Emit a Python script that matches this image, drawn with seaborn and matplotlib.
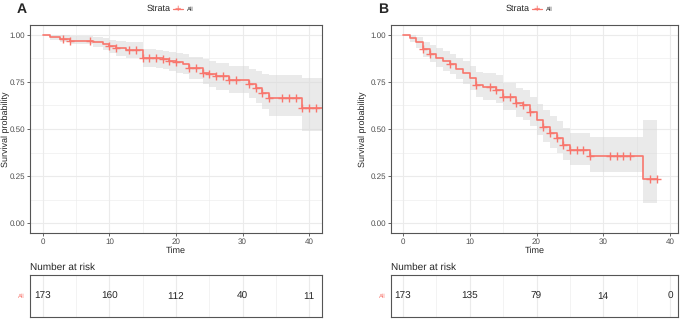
import numpy as np
import pandas as pd
import matplotlib
matplotlib.use("Agg")
import matplotlib.pyplot as plt
import seaborn as sns

# ---- panel A: Kaplan-Meier steps (time, survival, lower CI, upper CI)
a_time = [0, 1, 2.5, 4, 7.5, 9, 10, 11, 12.5, 15, 17, 18, 19, 20, 21, 22, 24, 25, 26, 28, 31, 32, 33, 34, 39, 42]
a_surv = [1.00, 0.99, 0.98, 0.97, 0.96, 0.95, 0.94, 0.93, 0.92, 0.88, 0.875, 0.87, 0.86, 0.855, 0.845, 0.825,
          0.80, 0.79, 0.78, 0.76, 0.74, 0.72, 0.69, 0.665, 0.61, 0.61]
a_lo = [1.00, 0.975, 0.96, 0.95, 0.935, 0.92, 0.905, 0.89, 0.88, 0.83, 0.825, 0.82, 0.81, 0.80, 0.79, 0.765,
        0.74, 0.725, 0.71, 0.69, 0.665, 0.64, 0.605, 0.57, 0.49, 0.49]
a_hi = [1.00, 1.00, 1.00, 0.995, 0.99, 0.985, 0.975, 0.97, 0.96, 0.925, 0.92, 0.915, 0.91, 0.905, 0.90, 0.885,
        0.87, 0.86, 0.85, 0.835, 0.82, 0.81, 0.79, 0.785, 0.77, 0.77]
a_cens = [3, 4, 7, 10, 11, 13, 14, 15, 16, 17, 18, 19, 20, 22, 23, 24, 25, 26, 27, 28, 29, 31, 32, 33, 34,
          36, 37, 38, 39, 40, 41]
a_risk = [173, 160, 112, 40, 11]

# ---- panel B
b_time = [0, 1, 2, 3, 4, 5, 6, 7, 8, 9, 10, 11, 12, 14, 15, 17, 18, 19, 20, 21, 22, 23, 24, 25, 28, 36, 38]
b_surv = [1.00, 0.985, 0.96, 0.925, 0.90, 0.88, 0.86, 0.845, 0.82, 0.80, 0.77, 0.735, 0.725, 0.71, 0.67, 0.64,
          0.625, 0.59, 0.55, 0.51, 0.48, 0.45, 0.415, 0.39, 0.355, 0.235, 0.235]
b_lo = [1.00, 0.965, 0.93, 0.885, 0.855, 0.83, 0.81, 0.79, 0.765, 0.74, 0.705, 0.67, 0.655, 0.64, 0.60, 0.565,
        0.55, 0.515, 0.47, 0.43, 0.40, 0.37, 0.335, 0.31, 0.27, 0.105, 0.105]
b_hi = [1.00, 1.00, 0.99, 0.965, 0.945, 0.93, 0.915, 0.90, 0.88, 0.86, 0.835, 0.805, 0.80, 0.785, 0.745, 0.72,
        0.705, 0.67, 0.635, 0.60, 0.57, 0.54, 0.505, 0.48, 0.46, 0.55, 0.55]
b_cens = [3, 4, 7, 11, 13, 14, 15, 16, 17, 18, 19, 21, 22, 23, 24, 25, 26, 27, 28, 31, 32, 33, 34, 37, 38]
b_risk = [173, 135, 79, 14, 0]

risk_times = [0, 10, 20, 30, 40]
x_ticks = [0, 10, 20, 30, 40]
y_ticks = [0.0, 0.25, 0.5, 0.75, 1.0]
y_labels = ["0.00", "0.25", "0.50", "0.75", "1.00"]

RED = "#F8766D"
GRID = "#EBEBEB"

sns.set_theme(style="white")
plt.rcParams["font.family"] = ["Liberation Sans", "DejaVu Sans"]
plt.rcParams["text.hinting"] = "no_hinting"
plt.rcParams["text.hinting_factor"] = 1

W, H = 685, 319
fig = plt.figure(figsize=(W / 100, H / 100), dpi=100)


def box(x0, y0, x1, y1):
    return [x0 / W, (H - y1) / H, (x1 - x0) / W, (y1 - y0) / H]


def style_axes(ax, xlim):
    ax.set_xlim(*xlim)
    ax.set_xticks(x_ticks)
    ax.set_xticks([5, 15, 25, 35], minor=True)
    ax.grid(True, which="major", color=GRID, lw=0.8)
    ax.grid(True, which="minor", color=GRID, lw=0.4)
    ax.set_axisbelow(True)
    for s in ax.spines.values():
        s.set_color("#555555")
        s.set_linewidth(0.8)


def km_panel(ax, t, s, lo, hi, cens, xlim, labx):
    df = pd.DataFrame({"time": t, "surv": s})
    ax.fill_between(t, lo, hi, step="post", color="#D9D9D9", alpha=0.55, lw=0)
    sns.lineplot(data=df, x="time", y="surv", ax=ax, color=RED, lw=1.2,
                 drawstyle="steps-post", estimator=None, sort=False)
    idx = np.searchsorted(t, cens, side="right") - 1
    cy = [s[i] for i in idx]
    sns.scatterplot(x=cens, y=cy, ax=ax, marker="+", s=26, color=RED, linewidth=1.0)
    style_axes(ax, xlim)
    ax.set_ylim(-0.053, 1.053)
    ax.set_yticks(y_ticks)
    ax.set_yticklabels(y_labels)
    ax.set_yticks([0.125, 0.375, 0.625, 0.875], minor=True)
    ax.tick_params(axis="both", which="major", labelsize=5.5, colors="#4D4D4D",
                   length=2, width=0.6, pad=1.5, bottom=True, left=True)
    ax.tick_params(axis="both", which="minor", length=0)
    ax.set_xlabel("Time", fontsize=6.5, labelpad=1)
    ax.set_ylabel("Survival probability", fontsize=6.5, va="center")
    ax.yaxis.set_label_coords(labx, 0.5)


def risk_panel(ax, risk, xlim):
    for x, n in zip(risk_times, risk):
        ax.text(x, 0.5, str(n), ha="center", va="center", fontsize=7.5)
    style_axes(ax, xlim)
    ax.set_ylim(0, 1)
    ax.set_yticks([])
    ax.grid(False, axis="y")
    ax.tick_params(axis="x", which="both", length=0, labelbottom=False)
    ax.set_xlabel("")
    ax.set_ylabel("")
    ax.set_title("Number at risk", loc="left", fontsize=7.5, pad=4)
    ax.text(-0.02, 0.5, "All", transform=ax.transAxes, ha="right", va="center",
            fontsize=4.5, color=RED)


panels = [
    ("A", 30, 322, (-1.95, 41.95), -0.082, a_time, a_surv, a_lo, a_hi, a_cens, a_risk),
    ("B", 391, 678, (-1.8, 41.2), -0.097, b_time, b_surv, b_lo, b_hi, b_cens, b_risk),
]

for lab, x0, x1, xlim, labx, t, s, lo, hi, cens, risk in panels:
    ax = fig.add_axes(box(x0, 25, x1, 233))
    km_panel(ax, t, s, lo, hi, cens, xlim, labx)
    rax = fig.add_axes(box(x0, 275, x1, 317))
    risk_panel(rax, risk, xlim)

    # panel letter and legend
    fig.text((x0 - 13) / W, 1 - 9 / H, lab, fontsize=10, fontweight="bold", va="center", ha="left")
    cx = (x0 + x1) / 2
    fig.text((cx - 5) / W, 1 - 9 / H, "Strata", fontsize=6.5, va="center", ha="right")
    fig.text((cx + 2) / W, 1 - 9 / H, "+", fontsize=8, color=RED, va="center", ha="center")
    fig.lines.append(plt.Line2D([(cx - 3) / W, (cx + 7) / W], [1 - 9 / H, 1 - 9 / H],
                                transform=fig.transFigure, color=RED, lw=0.9))
    fig.text((cx + 11) / W, 1 - 9 / H, "All", fontsize=4.5, va="center", ha="left")

fig.savefig("out.png", dpi=100)
